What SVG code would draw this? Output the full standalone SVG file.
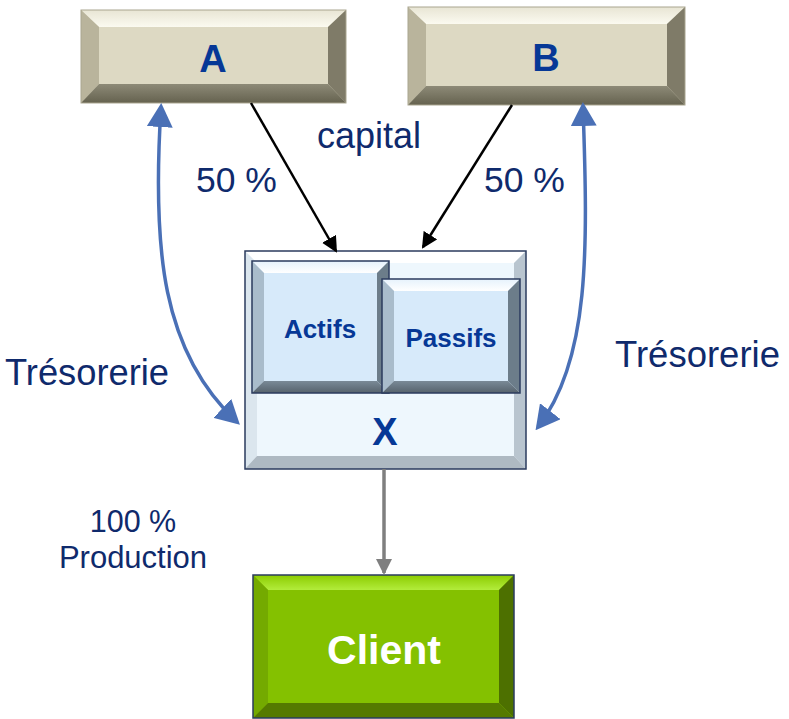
<svg xmlns="http://www.w3.org/2000/svg" width="789" height="719" viewBox="0 0 789 719">
<defs>
<style>
.lbl{font-family:"Liberation Sans",Arial,sans-serif;fill:#0f2a6c;}
.bold{font-family:"Liberation Sans",Arial,sans-serif;font-weight:bold;fill:#063896;text-anchor:middle;}
.beige{fill:#ddd9c3;}
.beigeT{fill:url(#gBT);}
.beigeL{fill:#b9b49c;}
.beigeR{fill:#7f7b68;}
.beigeB{fill:url(#gBB);}
.blue{fill:#d7eafa;}
.blueT{fill:url(#gLT);}
.blueL{fill:#a9bccb;}
.blueR{fill:#6c7d8a;}
.blueB{fill:url(#gLB);}
.pale{fill:#eef7fd;}
.paleT{fill:#ffffff;}
.paleL{fill:#dbe6ee;}
.paleR{fill:#b9c5cf;}
.paleB{fill:#aeb9c2;}
.green{fill:#84c100;}
.greenT{fill:url(#gGT);}
.greenL{fill:#74aa00;}
.greenR{fill:#4d7000;}
.greenB{fill:#557a00;}
.edge{fill:none;stroke:#2b3b5e;stroke-width:1.5;}
.conn-black{fill:none;stroke:#000;stroke-width:2.5;marker-end:url(#mBlack);}
.conn-blue{fill:none;stroke:#4a70b6;stroke-width:3.5;marker-start:url(#mBlue);marker-end:url(#mBlue);}
.conn-gray{fill:none;stroke:#7f7f7f;stroke-width:3.5;marker-end:url(#mGray);}
</style>
<linearGradient id="gBT" x1="0" y1="0" x2="0" y2="1"><stop offset="0" stop-color="#e8e5d4"/><stop offset="1" stop-color="#fbfaf0"/></linearGradient>
<linearGradient id="gBB" x1="0" y1="0" x2="0" y2="1"><stop offset="0" stop-color="#8d8a77"/><stop offset="1" stop-color="#65624f"/></linearGradient>
<linearGradient id="gLT" x1="0" y1="0" x2="0" y2="1"><stop offset="0" stop-color="#e6f2fc"/><stop offset="1" stop-color="#ffffff"/></linearGradient>
<linearGradient id="gLB" x1="0" y1="0" x2="0" y2="1"><stop offset="0" stop-color="#7a8a97"/><stop offset="1" stop-color="#56626c"/></linearGradient>
<linearGradient id="gGT" x1="0" y1="0" x2="0" y2="1"><stop offset="0" stop-color="#8ccc00"/><stop offset="1" stop-color="#b2ec3c"/></linearGradient>
<marker id="mBlack" viewBox="0 0 16 16" refX="14" refY="8" markerWidth="16" markerHeight="16" markerUnits="userSpaceOnUse" orient="auto"><path d="M0,0 L16,8 L0,16 z" fill="#000"/></marker>
<marker id="mBlue" viewBox="0 0 24 26" refX="20" refY="13" markerWidth="24" markerHeight="26" markerUnits="userSpaceOnUse" orient="auto-start-reverse"><path d="M0,0 L24,13 L0,26 z" fill="#4a70b6"/></marker>
<marker id="mGray" viewBox="0 0 16 16" refX="14" refY="8" markerWidth="16" markerHeight="16" markerUnits="userSpaceOnUse" orient="auto"><path d="M0,0 L16,8 L0,16 z" fill="#7f7f7f"/></marker>
</defs>

<g id="node-A">
<rect class="beige" x="81" y="10" width="265" height="93"/>
<polygon class="beigeT" points="81,10 346,10 328,27 99,27"/>
<polygon class="beigeL" points="81,10 99,27 99,84 81,103"/>
<polygon class="beigeR" points="346,10 346,103 328,84 328,27"/>
<polygon class="beigeB" points="81,103 99,84 328,84 346,103"/>
<rect x="81" y="10" width="265" height="93" fill="none" stroke="#a9a58f" stroke-width="1"/>
<text class="bold" x="213" y="72" font-size="38">A</text>
</g>

<g id="node-B">
<rect class="beige" x="408" y="7" width="277" height="98"/>
<polygon class="beigeT" points="408,7 685,7 667,24 426,24"/>
<polygon class="beigeL" points="408,7 426,24 426,86 408,105"/>
<polygon class="beigeR" points="685,7 685,105 667,86 667,24"/>
<polygon class="beigeB" points="408,105 426,86 667,86 685,105"/>
<rect x="408" y="7" width="277" height="98" fill="none" stroke="#a9a58f" stroke-width="1"/>
<text class="bold" x="546" y="71" font-size="38">B</text>
</g>

<g id="node-X">
<rect class="pale" x="245" y="251" width="281" height="218"/>
<polygon class="paleT" points="245,251 526,251 514,263 257,263"/>
<polygon class="paleL" points="245,251 257,263 257,456 245,469"/>
<polygon class="paleR" points="526,251 526,469 514,456 514,263"/>
<polygon class="paleB" points="245,469 257,456 514,456 526,469"/>
<rect class="edge" x="245" y="251" width="281" height="218"/>
<text class="bold" x="385" y="445" font-size="38">X</text>
</g>

<g id="node-Actifs">
<rect class="blue" x="252" y="261" width="137" height="132"/>
<polygon class="blueT" points="252,261 389,261 377,273 264,273"/>
<polygon class="blueL" points="252,261 264,273 264,381 252,393"/>
<polygon class="blueR" points="389,261 389,393 377,381 377,273"/>
<polygon class="blueB" points="252,393 264,381 377,381 389,393"/>
<rect class="edge" x="252" y="261" width="137" height="132"/>
<text class="bold" x="320" y="338" font-size="26">Actifs</text>
</g>

<g id="node-Passifs">
<rect class="blue" x="382" y="279" width="138" height="114"/>
<polygon class="blueT" points="382,279 520,279 508,291 394,291"/>
<polygon class="blueL" points="382,279 394,291 394,381 382,393"/>
<polygon class="blueR" points="520,279 520,393 508,381 508,291"/>
<polygon class="blueB" points="382,393 394,381 508,381 520,393"/>
<rect class="edge" x="382" y="279" width="138" height="114"/>
<text class="bold" x="451" y="347" font-size="26">Passifs</text>
</g>

<g id="node-Client">
<rect class="green" x="253" y="575" width="261" height="143"/>
<polygon class="greenT" points="253,575 514,575 499,590 268,590"/>
<polygon class="greenL" points="253,575 268,590 268,703 253,718"/>
<polygon class="greenR" points="514,575 514,718 499,703 499,590"/>
<polygon class="greenB" points="253,718 268,703 499,703 514,718"/>
<rect class="edge" x="253" y="575" width="261" height="143"/>
<text class="bold" x="384" y="664" font-size="41" style="fill:#ffffff">Client</text>
</g>

<g id="connectors">
<path class="conn-black" d="M251,103 L336,251"/>
<path class="conn-black" d="M512,105 L423,247"/>
<path class="conn-blue" d="M161,107 C152,250 162,352 237,422"/>
<path class="conn-blue" d="M583,106 C588,250 590,360 538,427"/>
<path class="conn-gray" d="M384,469 L384,573"/>
</g>

<g id="labels">
<text class="lbl" x="317" y="148" font-size="36">capital</text>
<text class="lbl" x="196" y="192" font-size="35.5">50 %</text>
<text class="lbl" x="484" y="192" font-size="35.5">50 %</text>
<text class="lbl" x="5" y="385" font-size="36.3">Trésorerie</text>
<text class="lbl" x="615" y="367" font-size="36.5">Trésorerie</text>
<text class="lbl" x="133" y="532" font-size="30.5" text-anchor="middle">100 %</text>
<text class="lbl" x="133" y="568" font-size="31" text-anchor="middle">Production</text>
</g>
</svg>
